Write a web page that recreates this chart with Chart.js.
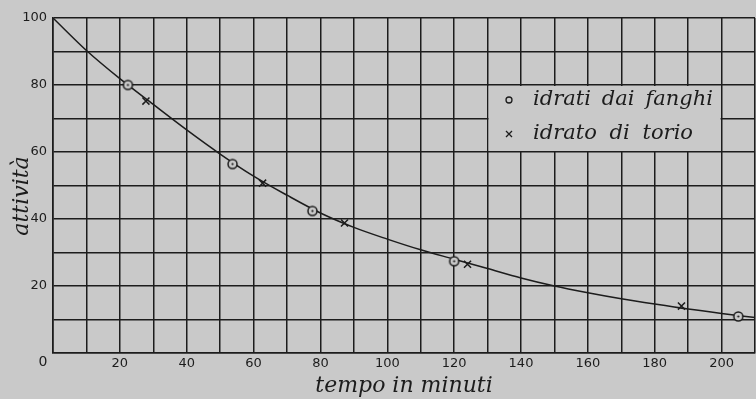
<!DOCTYPE html>
<html>
<head>
<meta charset="utf-8">
<script src="https://cdn.jsdelivr.net/npm/chart.js@4/dist/chart.umd.min.js"></script>
<style>
  html, body { margin: 0; padding: 0; background: #c9c9c9; }
</style>
</head>
<body>
<canvas id="decayChart" width="756" height="399"></canvas>
<script>
// smooth decay curve as drawn on the plate
const curveMinutes  = [0, 10, 20, 30, 40, 50, 60, 70, 80, 90, 100, 110, 120, 130, 140, 150, 160, 170, 180, 190, 200, 210];
const curveActivity = [100, 90.3, 81.9, 74.2, 66.6, 59.4, 52.8, 47.1, 41.8, 37.5, 34.0, 30.8, 28.0, 25.2, 22.4, 20.0, 18.0, 16.2, 14.6, 13.1, 11.8, 10.6];

// o  idrati dai fanghi
const sludgeMinutes  = [22.4, 53.7, 77.6, 120, 205];
const sludgeActivity = [80, 56.4, 42.4, 27.4, 10.9];

// x  idrato di torio
const thoriumMinutes  = [27.8, 62.7, 87.2, 124, 188];
const thoriumActivity = [75.2, 50.7, 38.8, 26.5, 14.0];

const legendLabels = ['idrati dai fanghi', 'idrato di torio'];
const xTitle = 'tempo in minuti';
const yTitle = 'attività';

const paper = '#c9c9c9';
const ink = '#1c1c1c';

function toPoints(xs, ys) {
    return xs.map((x, i) => ({ x: x, y: ys[i] }));
}

// circle with a dot in the middle
function ringMarker(r) {
    const c = document.createElement('canvas');
    const s = r * 2 + 4;
    c.width = s; c.height = s;
    const g = c.getContext('2d');
    g.fillStyle = paper;
    g.strokeStyle = ink;
    g.lineWidth = 1.5;
    g.beginPath(); g.arc(s / 2, s / 2, r, 0, Math.PI * 2); g.fill(); g.stroke();
    g.fillStyle = ink;
    g.beginPath(); g.arc(s / 2, s / 2, 1.1, 0, Math.PI * 2); g.fill();
    return c;
}

const paperPlugin = {
    id: 'paper',
    beforeDraw(chart) {
        const ctx = chart.ctx;
        ctx.save();
        ctx.fillStyle = paper;
        ctx.fillRect(0, 0, chart.width, chart.height);
        ctx.restore();
    }
};

const notesPlugin = {
    id: 'notes',
    afterDraw(chart) {
        const ctx = chart.ctx;
        const xs = chart.scales.x, ys = chart.scales.y;
        ctx.save();

        // legend panel, cut out of the grid
        const l = xs.getPixelForValue(130) + 1, r = xs.getPixelForValue(200) - 1;
        const t = ys.getPixelForValue(80) + 1, b = ys.getPixelForValue(60) - 1;
        ctx.fillStyle = paper;
        ctx.fillRect(l, t, r - l, b - t);

        ctx.fillStyle = ink;
        ctx.strokeStyle = ink;
        ctx.lineWidth = 1.3;
        ctx.font = 'italic 21px "DejaVu Serif"';
        ctx.textBaseline = 'alphabetic';
        ctx.textAlign = 'left';
        const rows = [
            { y: 105, target: 180 },
            { y: 139, target: 160 }
        ];
        legendLabels.forEach((txt, i) => {
            const words = txt.split(' ');
            const widths = words.map(w => ctx.measureText(w).width);
            const total = widths.reduce((a, b) => a + b, 0);
            const gap = (rows[i].target - total) / (words.length - 1);
            let x = 533;
            words.forEach((w, k) => {
                ctx.fillText(w, x, rows[i].y);
                x += widths[k] + gap;
            });
        });
        // legend markers
        ctx.beginPath(); ctx.arc(509, 100, 3, 0, Math.PI * 2); ctx.stroke();
        ctx.beginPath();
        ctx.moveTo(506, 131); ctx.lineTo(512, 137);
        ctx.moveTo(512, 131); ctx.lineTo(506, 137);
        ctx.stroke();

        // axis titles
        ctx.font = 'italic 22px "DejaVu Serif"';
        ctx.textAlign = 'center';
        ctx.textBaseline = 'middle';
        ctx.fillText(xTitle, (chart.chartArea.left + chart.chartArea.right) / 2, 386);
        ctx.save();
        ctx.translate(22, 196);
        ctx.rotate(-Math.PI / 2);
        ctx.fillText(yTitle, 0, 0);
        ctx.restore();

        // shared origin
        ctx.font = '14px "DejaVu Sans"';
        ctx.fillText('0', 43, 362);
        ctx.restore();
    }
};

new Chart(document.getElementById('decayChart'), {
    type: 'scatter',
    data: {
        datasets: [
            {
                label: 'curva',
                data: toPoints(curveMinutes, curveActivity),
                showLine: true,
                cubicInterpolationMode: 'monotone',
                borderColor: ink,
                borderWidth: 1.5,
                pointRadius: 0,
                clip: false,
                order: 3
            },
            {
                label: legendLabels[0],
                data: toPoints(sludgeMinutes, sludgeActivity),
                pointStyle: ringMarker(4.5),
                pointRadius: 5,
                clip: false,
                order: 1
            },
            {
                label: legendLabels[1],
                data: toPoints(thoriumMinutes, thoriumActivity),
                pointStyle: 'crossRot',
                pointRadius: 5,
                borderColor: ink,
                borderWidth: 1.5,
                clip: false,
                order: 2
            }
        ]
    },
    options: {
        responsive: false,
        animation: false,
        devicePixelRatio: 1,
        layout: { autoPadding: false, padding: { top: 18, right: 1, left: 0, bottom: 0 } },
        plugins: {
            legend: { display: false },
            tooltip: { enabled: false }
        },
        scales: {
            x: {
                type: 'linear',
                min: 0,
                max: 210,
                afterFit(scale) {
                    scale.height = 46;
                    scale.paddingLeft = 0;
                    scale.paddingRight = 0;
                },
                border: { color: ink, width: 1.6 },
                grid: { color: ink, lineWidth: 1.5, drawTicks: false },
                ticks: {
                    stepSize: 10,
                    autoSkip: false,
                    maxRotation: 0,
                    padding: 3,
                    color: ink,
                    font: { family: 'DejaVu Sans', size: 13 },
                    callback: v => (v % 20 === 0 && v !== 0 ? v : '')
                }
            },
            y: {
                type: 'linear',
                min: 0,
                max: 100,
                afterFit(scale) {
                    scale.width = 53;
                    scale.paddingTop = 0;
                    scale.paddingBottom = 0;
                },
                border: { color: ink, width: 1.6 },
                grid: { color: ink, lineWidth: 1.5, drawTicks: false },
                ticks: {
                    stepSize: 10,
                    autoSkip: false,
                    padding: 6,
                    color: ink,
                    font: { family: 'DejaVu Sans', size: 13 },
                    callback: v => (v % 20 === 0 && v !== 0 ? v : '')
                }
            }
        }
    },
    plugins: [paperPlugin, notesPlugin]
});
</script>
</body>
</html>
